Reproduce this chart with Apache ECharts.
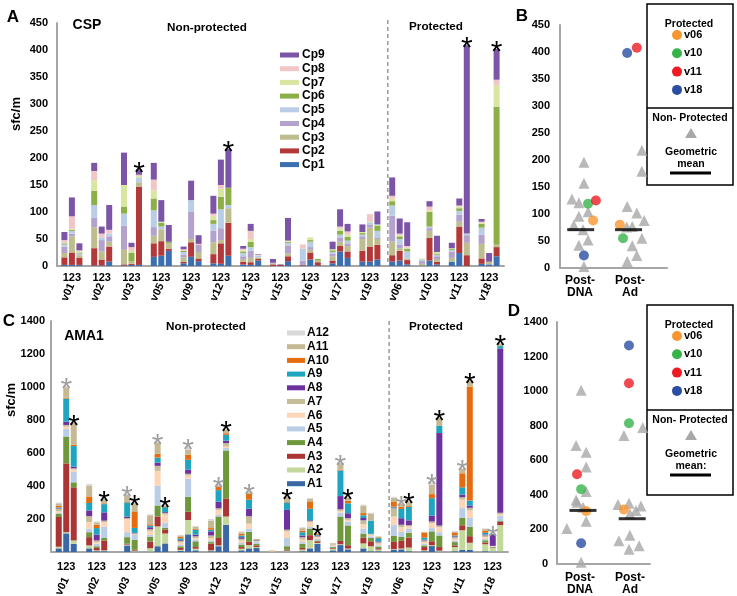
<!DOCTYPE html>
<html><head><meta charset="utf-8">
<script src="https://cdn.jsdelivr.net/npm/echarts@6/dist/echarts.min.js"></script>
<style>html,body{margin:0;padding:0;background:#fff}#c{width:737px;height:596px}</style>
</head><body><div id="c"></div>
<script>
// ---------- DATA ----------
const volunteers = ['v01','v02','v03','v05','v09','v12','v13','v15','v16','v17','v19','v06','v10','v11','v18'];
const barLabels = ['1','2','3'];
const cspNames = ['Cp1','Cp2','Cp3','Cp4','Cp5','Cp6','Cp7','Cp8','Cp9'];
const amaNames = ['A1','A2','A3','A4','A5','A6','A7','A8','A9','A10','A11','A12'];
// each array: 3 bars per volunteer, in volunteer order
const Cp1 = [2,2,2, 1,1,8, 1,2,2, 17,19,28, 5,17,9, 5,4,19, 3,2,10, 0,0,9, 1,12,1, 5,27,15, 8,8,12, 8,10,3, 1,10,3, 8,24,0, 4,3,18];
const Cp2 = [14,23,13, 32,11,28, 2,2,145, 25,27,4, 3,27,5, 17,38,61, 5,5,3, 3,2,9, 1,13,6, 5,10,12, 20,28,27, 12,18,8, 0,42,5, 0,49,20, 10,0,17];
const Cp3 = [8,30,5, 39,15,9, 27,5,8, 14,22,10, 8,6,12, 22,6,27, 5,8,3, 2,0,5, 0,5,3, 8,8,10, 22,35,11, 25,5,3, 3,13,5, 7,9,23, 27,5,5];
const Cp4 = [12,5,0, 17,21,10, 45,0,0, 16,0,0, 5,50,13, 21,22,0, 5,13,0, 1,0,15, 8,5,0, 5,8,5, 5,5,3, 48,7,0, 5,5,5, 12,13,14, 17,0,0];
const Cp5 = [4,5,3, 24,5,5, 22,0,8, 31,5,0, 5,22,0, 13,35,6, 6,7,3, 0,0,5, 22,10,0, 3,5,5, 3,5,12, 19,10,13, 3,3,3, 3,7,3, 13,0,0];
const Cp6 = [2,2,2, 26,0,0, 13,16,0, 22,7,3, 2,0,0, 7,23,32, 3,10,0, 0,0,2, 0,3,3, 3,7,7, 3,0,10, 8,5,5, 0,27,2, 2,5,0, 7,0,255];
const Cp7 = [1,2,2, 20,0,0, 40,3,3, 15,2,0, 0,0,0, 8,15,0, 2,5,0, 0,0,2, 0,5,0, 2,5,4, 2,2,2, 5,2,2, 2,3,3, 1,3,0, 2,0,40];
const Cp8 = [5,23,2, 17,7,7, 0,7,3, 20,0,0, 3,0,2, 4,7,0, 3,15,2, 0,0,0, 8,0,0, 0,3,6, 0,13,0, 5,3,3, 0,7,0, 0,2,0, 2,0,10];
const Cp9 = [15,35,13, 15,13,46, 60,8,10, 31,40,31, 5,36,16, 33,47,72, 5,13,1, 7,1,42, 0,0,0, 14,32,14, 14,0,24, 34,28,44, 0,10,30, 10,13,349, 5,16,57];
const cspStars = [0,0,0, 0,0,0, 0,0,1, 0,0,0, 0,0,0, 0,0,1, 0,0,0, 0,0,0, 0,0,0, 0,0,0, 0,0,0, 0,0,0, 0,0,0, 0,0,1, 0,0,1];

const A1 = [22,113,50, 22,5,5, 0,40,3, 3,35,52, 8,107,10, 5,35,165, 10,22,25, 0,0,3, 5,22,50, 10,42,16, 22,5,5, 12,16,5, 5,36,3, 5,12,12, 5,3,3];
const A2 = [10,7,20, 18,5,5, 0,5,5, 20,120,60, 5,87,10, 5,5,50, 10,20,5, 0,0,5, 10,50,5, 10,5,5, 30,30,10, 5,5,22, 5,5,5, 25,120,44, 42,22,160];
const A3 = [180,417,322, 50,15,60, 0,5,5, 40,60,25, 12,50,10, 40,45,110, 10,20,10, 0,0,5, 10,30,10, 5,20,20, 36,30,8, 44,46,60, 20,24,22, 10,30,40, 10,3,20];
const A4 = [20,163,30, 30,10,15, 0,40,60, 30,67,10, 10,90,35, 10,130,290, 15,60,10, 0,0,22, 25,40,5, 5,148,120, 24,20,10, 36,24,30, 10,60,70, 20,44,56, 14,3,5];
const A5 = [5,45,63, 22,15,70, 0,30,30, 10,120,30, 8,110,10, 10,10,15, 10,20,10, 0,0,50, 10,10,10, 5,24,24, 30,10,8, 66,30,24, 10,20,20, 10,60,54, 10,3,30];
const A6 = [10,15,15, 40,10,25, 0,80,5, 25,90,50, 15,20,10, 15,30,10, 15,30,5, 3,0,40, 15,30,10, 5,10,10, 26,10,10, 52,30,16, 10,30,30, 10,52,46, 10,3,10];
const A7 = [15,10,7, 35,10,10, 0,5,5, 10,30,10, 10,10,10, 15,10,20, 10,45,3, 3,0,10, 15,5,5, 5,10,10, 24,5,8, 50,14,5, 10,10,10, 10,14,16, 10,0,10];
const A8 = [3,20,10, 35,35,50, 0,10,3, 12,20,5, 5,25,10, 25,40,15, 10,45,3, 0,0,120, 10,5,5, 0,80,30, 14,0,5, 5,40,30, 5,36,561, 5,16,14, 5,70,995];
const A9 = [5,140,125, 45,40,50, 0,85,30, 10,30,30, 10,60,30, 10,70,35, 10,55,3, 0,0,45, 20,70,5, 0,155,60, 16,80,20, 5,56,82, 12,105,43, 5,44,30, 10,3,15];
const A10 = [10,5,8, 40,20,5, 0,3,100, 8,24,5, 10,30,5, 10,20,10, 10,35,3, 2,0,3, 10,45,5, 0,5,16, 14,0,5, 28,14,5, 30,25,0, 15,85,690, 14,0,0];
const A11 = [15,63,132, 66,15,25, 0,45,50, 55,65,5, 8,30,15, 45,10,20, 10,10,0, 0,0,30, 15,16,5, 8,40,20, 46,44,5, 26,16,28, 5,56,48, 10,26,34, 10,0,15];
const A12 = [5,10,2, 10,5,5, 0,3,3, 5,10,3, 2,20,2, 10,5,5, 5,3,0, 0,0,0, 5,5,2, 0,5,4, 5,4,3, 6,4,3, 0,20,0, 2,5,5, 3,3,3];
const amaStars = [0,2,1, 0,0,1, 0,2,1, 0,2,1, 0,2,0, 0,2,1, 0,2,0, 0,0,1, 0,0,1, 0,2,1, 0,0,0, 0,2,1, 0,2,1, 0,2,1, 0,2,1];

const groupLabels = ['Post-\nDNA','Post-\nAd'];
const protNames = ['v06','v10','v11','v18'];
// panel B (CSP): values and horizontal spread (group centre = 1 or 2)
const bTriDna  = [196,157,128,121,104,96,79,71,52,42,3];
const bTriDnaX = [1.02,1.02,0.76,0.91,1.11,0.91,0.80,1.0,1.11,0.91,1.02];
const bTriAd   = [218,179,114,102,88,77,76,55,41,23,12];
const bTriAdX  = [2.28,2.28,1.96,2.17,2.33,2.07,1.95,2.28,2.07,2.17,1.96];
const bProtDna  = [88,119,125,23];
const bProtDnaX = [1.22,1.11,1.28,1.02];
const bProtAd   = [80,55,408,398];
const bProtAdX  = [1.80,1.87,2.17,1.96];
const bMean  = [71,71];
const bMeanX = [0.95,1.99];
// panel D (AMA1)
const dTriDna  = [1005,686,646,561,420,370,357,328,247,205,10];
const dTriDnaX = [0.96,0.85,1.07,1.07,1.07,0.85,0.87,1.0,1.07,0.65,0.96];
const dTriAd   = [789,743,352,344,335,310,291,167,135,106,85];
const dTriAdX  = [2.30,1.89,2.0,1.76,2.26,2.15,2.02,2.02,1.78,2.22,2.0];
const dProtDna  = [306,433,519,120];
const dProtDnaX = [1.07,0.96,0.87,0.96];
const dProtAd   = [316,814,1046,1264];
const dProtAdX  = [1.89,2.0,2.0,2.0];
const dMean  = [310,262];
const dMeanX = [1.0,2.07];

// ---------- STYLE ----------
const FONT = '"Liberation Sans", Arial, sans-serif';
const cspColors = ['#3c6fb0','#b3383a','#bdbd8d','#b2a2cc','#b9cde6','#8caf48','#d8e6a2','#f2c6c6','#7c55a6'];
const amaColors = ['#3a68a4','#c3d99b','#ab3434','#6e983b','#b9cde6','#fbd5b5','#c4bd97','#7031a0','#1ea5bf','#e66c10','#c6b893','#d9d9d9'];
const protColors = ['#f7962f','#37b34a','#ed1c24','#2b4ea2'];
const triColor = '#a8a8a8';
const axisColor = '#a6a6a6';

const cspComps = [Cp1,Cp2,Cp3,Cp4,Cp5,Cp6,Cp7,Cp8,Cp9];
const amaComps = [A1,A2,A3,A4,A5,A6,A7,A8,A9,A10,A11,A12];

function stackSeries(comps, names, colors, stars, xi, yi, tag) {
  const out = [];
  for (let b = 0; b < 3; b++) {
    const stack = tag + b;
    names.forEach((n, c) => {
      out.push({type:'bar', name:n, stack, stackStrategy:'all', xAxisIndex:xi, yAxisIndex:yi,
        barWidth:6, barGap:'25%', itemStyle:{color:colors[c]}, silent:true,
        data: volunteers.map((v, i) => comps[c][i*3+b])});
    });
    out.push({type:'bar', name:'star'+tag, stack, stackStrategy:'all', xAxisIndex:xi, yAxisIndex:yi,
      barWidth:6, barGap:'25%', silent:true, itemStyle:{color:'rgba(0,0,0,0)'},
      label:{show:false, position:'top', distance:0, formatter:'*', fontSize:30, fontFamily:FONT, offset:[0,19]},
      data: volunteers.map((v, i) => {
        const s = stars[i*3+b];
        return s ? {value:0, label:{show:true, color: s === 1 ? '#000' : '#a0a0a0'}} : 0;
      })});
  }
  return out;
}

function pts(xs, ys) { return xs.map((x, i) => [x, ys[i]]); }
function protPts(xs, ys) { return xs.map((x, i) => ({value:[x, ys[i]], itemStyle:{color:protColors[i]}})); }
function scatterSeries(xi, yi, triDX, triD, triAX, triA, pDX, pD, pAX, pA, mX, m) {
  const base = {type:'scatter', xAxisIndex:xi, yAxisIndex:yi, silent:true};
  return [
    Object.assign({}, base, {symbol:'triangle', symbolSize:11, itemStyle:{color:triColor}, data:pts(triDX, triD)}),
    Object.assign({}, base, {symbol:'triangle', symbolSize:11, itemStyle:{color:triColor}, data:pts(triAX, triA)}),
    Object.assign({}, base, {symbol:'circle', symbolSize:10, data:protPts(pDX, pD)}),
    Object.assign({}, base, {symbol:'circle', symbolSize:10, data:protPts(pAX, pA)}),
    Object.assign({}, base, {symbol:'rect', symbolSize:[27,3], z:5, itemStyle:{color:'#000'}, data:pts(mX, m)})
  ];
}

const lbl = {fontSize:11, fontWeight:'bold', color:'#000', fontFamily:FONT};
const axLine = {show:true, onZero:false, lineStyle:{color:axisColor, width:2}};
const plain = v => String(v);

function catAxes(grid, margin1, margin2) {
  return [
    {type:'category', gridIndex:grid, position:'bottom', data:volunteers, axisLine:axLine, axisTick:{show:false},
     axisLabel:Object.assign({}, lbl, {interval:0, margin:margin1, formatter:() => barLabels.join('')})},
    {type:'category', gridIndex:grid, position:'bottom', offset:0, data:volunteers, axisLine:{show:false}, axisTick:{show:false},
     axisLabel:Object.assign({}, lbl, {interval:0, rotate:65, margin:margin2})}
  ];
}

const chart = echarts.init(document.getElementById('c'), null, {renderer:'canvas'});

const legendText = {fontSize:12, fontWeight:'bold', color:'#000', fontFamily:FONT};

const option = {
  animation:false,
  textStyle:{fontFamily:FONT},
  grid:[
    {left:57, top:23, width:447, height:243, outerBoundsMode:'none'},
    {left:560, top:25, width:107, height:243, outerBoundsMode:'none'},
    {left:51, top:321, width:457, height:231, outerBoundsMode:'none'},
    {left:557, top:322, width:93, height:242, outerBoundsMode:'none'},
    {left:555, top:25, width:100, height:243, outerBoundsMode:'none'},
    {left:555, top:322, width:100, height:242, outerBoundsMode:'none'}
  ],
  xAxis:[
    ...catAxes(0, 6, 18),
    {type:'value', gridIndex:1, position:'bottom', min:0.5, max:2.826, axisLine:axLine, axisTick:{show:false}, axisLabel:{show:false}, splitLine:{show:false}},
    ...catAxes(2, 9, 26),
    {type:'value', gridIndex:3, position:'bottom', min:0.435, max:2.457, axisLine:axLine, axisTick:{show:false}, axisLabel:{show:false}, splitLine:{show:false}},
    {type:'category', gridIndex:4, position:'bottom', data:groupLabels, axisLine:{show:false}, axisTick:{show:false},
     axisLabel:Object.assign({}, lbl, {fontSize:12, lineHeight:12, margin:7, interval:0})},
    {type:'category', gridIndex:5, position:'bottom', data:groupLabels, axisLine:{show:false}, axisTick:{show:false},
     axisLabel:Object.assign({}, lbl, {fontSize:12, lineHeight:12, margin:8, interval:0})}
  ],
  yAxis:[
    {type:'value', gridIndex:0, position:'left', min:0, max:450, interval:50, axisLine:axLine, axisTick:{show:false}, splitLine:{show:false}, axisLabel:Object.assign({}, lbl, {margin:9, formatter:plain})},
    {type:'value', gridIndex:1, position:'left', min:0, max:450, interval:50, axisLine:axLine, axisTick:{show:false}, splitLine:{show:false}, axisLabel:Object.assign({}, lbl, {margin:10, formatter:plain})},
    {type:'value', gridIndex:2, position:'left', min:0, max:1400, interval:200, axisLine:axLine, axisTick:{show:false}, splitLine:{show:false}, axisLabel:Object.assign({}, lbl, {margin:6, formatter:v => v === 0 ? '' : String(v)})},
    {type:'value', gridIndex:3, position:'left', min:0, max:1400, interval:200, axisLine:axLine, axisTick:{show:false}, splitLine:{show:false}, axisLabel:Object.assign({}, lbl, {margin:9, formatter:plain})},
    {type:'value', gridIndex:4, show:false, min:0, max:1},
    {type:'value', gridIndex:5, show:false, min:0, max:1}
  ],
  legend:[
    {data:cspNames.slice().reverse(), orient:'vertical', left:275, top:44, icon:'rect', itemWidth:19, itemHeight:5, itemGap:1.7,
     selectedMode:false, textStyle:Object.assign({lineHeight:12, padding:[0,0,0,-2]}, legendText)},
    {data:amaNames.slice().reverse(), orient:'vertical', left:282, top:322, icon:'rect', itemWidth:18, itemHeight:5, itemGap:1.7,
     selectedMode:false, textStyle:Object.assign({lineHeight:11, padding:[0,0,0,-3]}, legendText)}
  ],
  series:[
    ...stackSeries(cspComps, cspNames, cspColors, cspStars, 0, 0, 'c'),
    ...stackSeries(amaComps, amaNames, amaColors, amaStars, 3, 2, 'a'),
    ...scatterSeries(2, 1, bTriDnaX, bTriDna, bTriAdX, bTriAd, bProtDnaX, bProtDna, bProtAdX, bProtAd, bMeanX, bMean),
    ...scatterSeries(5, 3, dTriDnaX, dTriDna, dTriAdX, dTriAd, dProtDnaX, dProtDna, dProtAdX, dProtAd, dMeanX, dMean)
  ]
};
chart.setOption(option);

// ---------- annotations ----------
function txt(id, s, x, y, size, opts) {
  return Object.assign({type:'text', id, x, y, silent:true, style:{text:s, font:'bold ' + size + 'px ' + FONT, fill:'#000',
    align:'center', verticalAlign:'middle', textAlign:'center', textVerticalAlign:'middle'}}, opts || {});
}
function legendBox(prefix, top, divY, bottom, meanLabel) {
  const g = [];
  g.push({type:'rect', id:prefix+'box', silent:true, shape:{x:647, y:top, width:86, height:bottom-top}, style:{fill:'none', stroke:'#000', lineWidth:1.5}});
  g.push({type:'line', id:prefix+'div', silent:true, shape:{x1:647, y1:divY, x2:733, y2:divY}, style:{stroke:'#000', lineWidth:1.5}});
  g.push(txt(prefix+'pt', 'Protected', 689, top+20, 10.5));
  protNames.forEach((n, i) => {
    const cy = top + 31 + i*18.3;
    g.push({type:'circle', id:prefix+'c'+i, silent:true, shape:{cx:677, cy, r:5}, style:{fill:protColors[i]}});
    g.push({type:'text', id:prefix+'t'+i, x:684, y:cy, silent:true, style:{text:n, font:'bold 11px ' + FONT, fill:'#000', align:'left', verticalAlign:'middle', textAlign:'left', textVerticalAlign:'middle'}});
  });
  g.push(txt(prefix+'np', 'Non- Protected', 690, divY+10, 10.5));
  g.push({type:'polygon', id:prefix+'tri', silent:true, shape:{points:[[691,divY+20],[697,divY+30],[685,divY+30]]}, style:{fill:triColor}});
  g.push(txt(prefix+'gm', 'Geometric', 691, divY+44, 10.5));
  g.push(txt(prefix+'mn', meanLabel, 691, divY+56, 10.5));
  g.push({type:'line', id:prefix+'ml', silent:true, shape:{x1:670, y1:divY+65, x2:711, y2:divY+65}, style:{stroke:'#000', lineWidth:3}});
  return g;
}

const graphics = [
  txt('la', 'A', 13, 17, 17), txt('lb', 'B', 522, 16, 17), txt('lc', 'C', 9, 321, 17), txt('ld', 'D', 514, 311, 17),
  txt('csp', 'CSP', 87, 25, 14), txt('ama', 'AMA1', 84, 336, 14),
  txt('np1', 'Non-protected', 207, 28, 11.7), txt('p1', 'Protected', 436, 27, 11.7),
  txt('np2', 'Non-protected', 206, 327, 11.7), txt('p2', 'Protected', 436, 327, 11.7),
  txt('ya', 'sfc/m', 16, 114, 13, {rotation:Math.PI/2}),
  txt('yc', 'sfc/m', 11, 400, 13, {rotation:Math.PI/2}),
  ...legendBox('B', 4, 108, 185, 'mean'),
  ...legendBox('D', 305, 410, 495, 'mean:')
];

// dashed divider between non-protected and protected groups, from the axis scale
const xa0 = chart.convertToPixel({xAxisIndex:0}, 'v19'), xa1 = chart.convertToPixel({xAxisIndex:0}, 'v06');
const xc0 = chart.convertToPixel({xAxisIndex:3}, 'v19'), xc1 = chart.convertToPixel({xAxisIndex:3}, 'v06');
const yTopA = chart.convertToPixel({yAxisIndex:0}, 450), yBotA = chart.convertToPixel({yAxisIndex:0}, 0);
const yTopC = chart.convertToPixel({yAxisIndex:2}, 1400), yBotC = chart.convertToPixel({yAxisIndex:2}, 0);
const xA = (xa0 + xa1) / 2 + 3, xC = (xc0 + xc1) / 2 + 3;
graphics.push({type:'line', id:'divA', silent:true, shape:{x1:xA, y1:yTopA-3, x2:xA, y2:yBotA}, style:{stroke:'#9a9a9a', lineWidth:1.5, lineDash:[4,3]}});
graphics.push({type:'line', id:'divC', silent:true, shape:{x1:xC, y1:yTopC, x2:xC, y2:yBotC}, style:{stroke:'#9a9a9a', lineWidth:1.5, lineDash:[4,3]}});

chart.setOption({graphic:graphics});
</script>
</body></html>
